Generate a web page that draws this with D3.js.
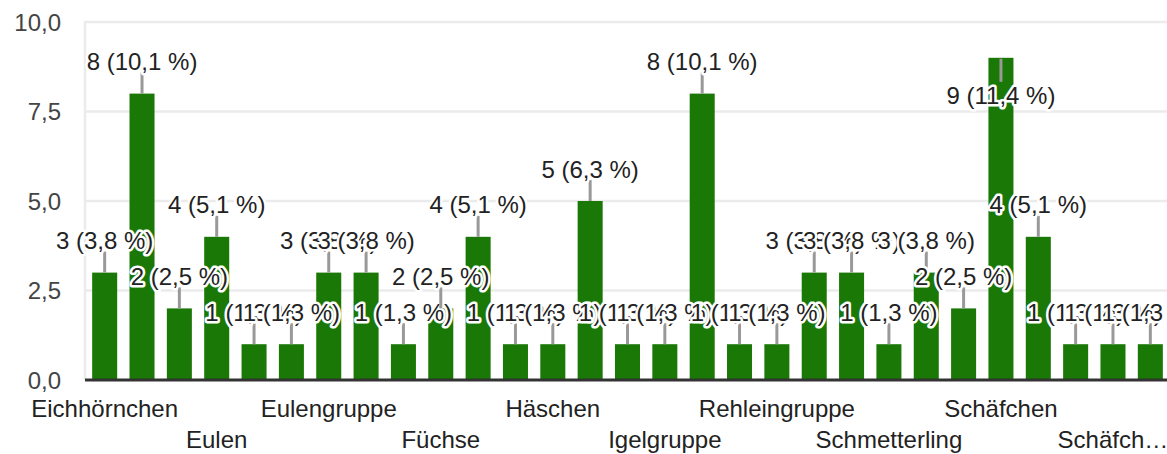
<!DOCTYPE html>
<html>
<head>
<meta charset="utf-8">
<script src="https://cdn.jsdelivr.net/npm/d3@7"></script>
<style>
  body { margin: 0; background: #fff; }
  text { font-family: "Liberation Sans", Arial, sans-serif; }
</style>
</head>
<body>
<div id="chart"></div>
<script>
const categories = [
  "Eichhörnchen", "Eichhörnchengruppe", "Elefanten", "Eulen", "Eulen-Gruppe",
  "Eulenfamilie", "Eulengruppe", "Fuchsgruppe", "Füchschen", "Füchse",
  "Hasen", "Hasengruppe", "Häschen", "Igel", "Igel-Gruppe",
  "Igelgruppe", "Käfer", "Mäuse", "Rehleingruppe", "Schafe",
  "Schildkröten", "Schmetterling", "Schmetterlinge", "Schnecken", "Schäfchen",
  "Schäfchen Gruppe", "Schäfchen-Gruppe", "Schäfchengruppe", "Spatzen"
];
const counts = [3, 8, 2, 4, 1, 1, 3, 3, 1, 2, 4, 1, 1, 5, 1, 1, 8, 1, 1, 3, 3, 1, 3, 2, 9, 4, 1, 1, 1];
const yTicks = [0, 2.5, 5, 7.5, 10];

const width = 1167, height = 454;
const margin = { top: 22, right: 0, bottom: 74, left: 86 };
const total = d3.sum(counts);
const de = d3.formatLocale({ decimal: ",", thousands: ".", grouping: [3], currency: ["", " €"] });
const tickFmt = de.format(".1f");
const pctFmt = de.format(".1f");

const svg = d3.select("#chart").append("svg")
  .attr("width", width)
  .attr("height", height);

const x = d3.scaleBand()
  .domain(categories)
  .range([margin.left, 1169])
  .paddingInner(0.33)
  .paddingOuter(0.165);

const y = d3.scaleLinear()
  .domain([0, 10])
  .range([height - margin.bottom, margin.top]);

// gridlines
svg.append("g")
  .selectAll("line")
  .data(yTicks.filter(d => d > 0))
  .join("line")
  .attr("x1", margin.left - 1)
  .attr("x2", width)
  .attr("y1", d => y(d))
  .attr("y2", d => y(d))
  .attr("stroke", "#ebebeb")
  .attr("stroke-width", 2.5);

svg.append("line")
  .attr("x1", margin.left - 1).attr("x2", margin.left - 1)
  .attr("y1", y(10) - 1).attr("y2", y(0))
  .attr("stroke", "#ebebeb")
  .attr("stroke-width", 2.5);

// y tick labels
svg.append("g")
  .selectAll("text")
  .data(yTicks)
  .join("text")
  .attr("x", 61)
  .attr("y", d => y(d))
  .attr("dy", "0.36em")
  .attr("text-anchor", "end")
  .attr("font-size", 24)
  .attr("fill", "#444")
  .text(d => tickFmt(d));

// bars
svg.append("g")
  .selectAll("rect")
  .data(counts)
  .join("rect")
  .attr("x", (d, i) => x(categories[i]))
  .attr("y", d => y(d))
  .attr("width", x.bandwidth())
  .attr("height", d => y(0) - y(d))
  .attr("fill", "#1a7806");

// baseline
svg.append("line")
  .attr("x1", margin.left - 1).attr("x2", width)
  .attr("y1", y(0)).attr("y2", y(0))
  .attr("stroke", "#333")
  .attr("stroke-width", 3);

// annotations: stem + label, drawn bar by bar
const ann = svg.append("g");
counts.forEach((d, i) => {
  const cx = x(categories[i]) + x.bandwidth() / 2;
  const top = y(d);
  const flip = top - 24 - 17 < margin.top;
  const g = ann.append("g");
  g.append("line")
    .attr("x1", cx).attr("x2", cx)
    .attr("y1", flip ? top + 1 : top - 21)
    .attr("y2", flip ? top + 24 : top)
    .attr("stroke", "#999")
    .attr("stroke-width", 3);
  g.append("text")
    .attr("x", cx)
    .attr("y", flip ? top + 46 : top - 23.5)
    .attr("text-anchor", "middle")
    .attr("font-size", 24)
    .attr("fill", "#222")
    .attr("stroke", "#fff")
    .attr("stroke-width", 5)
    .attr("stroke-linejoin", "round")
    .attr("paint-order", "stroke")
    .text(`${d} (${pctFmt(d / total * 100)} %)`);
});

// category labels: every third, alternating rows
const xl = svg.append("g");
categories.forEach((c, i) => {
  if (i % 3 !== 0) return;
  const cx = x(c) + x.bandwidth() / 2;
  const row = (i / 3) % 2;
  const t = xl.append("text")
    .attr("x", cx)
    .attr("y", 416.5 + row * 31)
    .attr("text-anchor", "middle")
    .attr("font-size", 24)
    .attr("fill", "#222")
    .text(c);
  const maxW = 2 * Math.min(cx, width - cx) + 4;
  if (t.node().getComputedTextLength() > maxW) {
    let s = c;
    while (s.length > 1) {
      s = s.slice(0, -1);
      t.text(s + "…");
      if (t.node().getComputedTextLength() <= maxW) break;
    }
  }
});
</script>
</body>
</html>
